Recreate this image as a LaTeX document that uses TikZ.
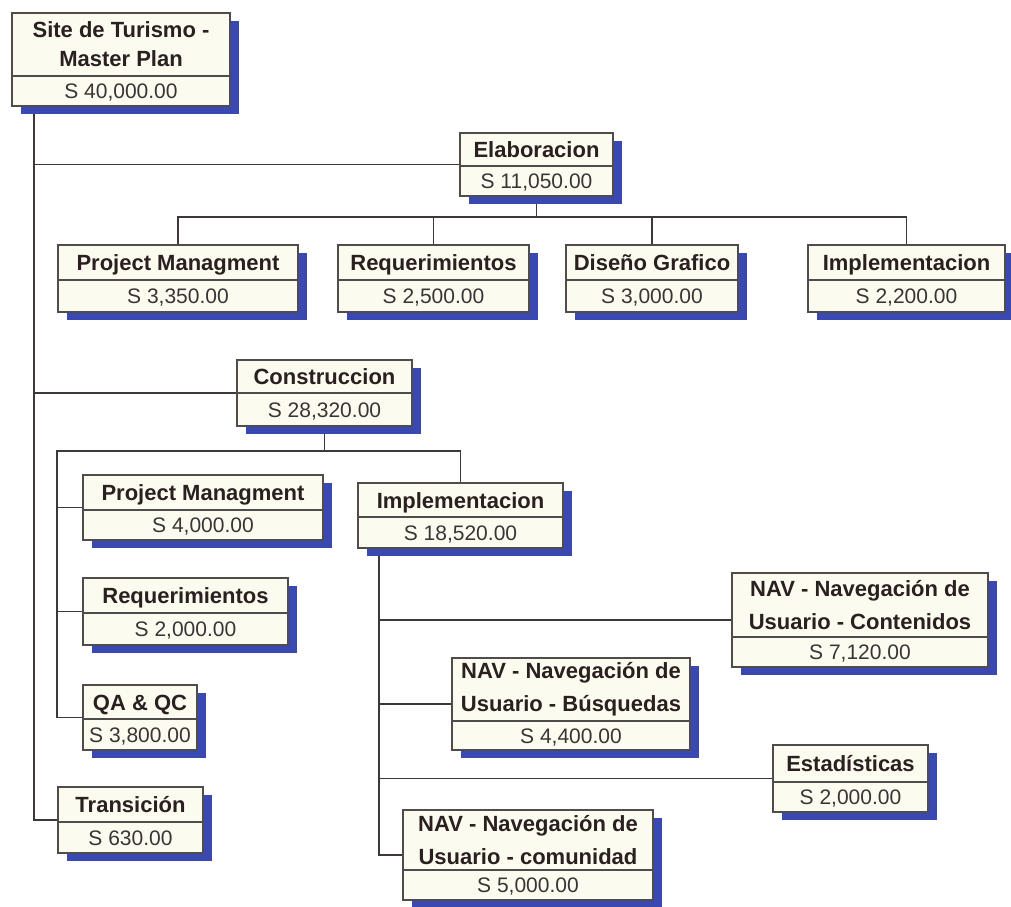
\documentclass[tikz,border=0pt]{standalone}
\usepackage{fontspec}
\setmainfont{Liberation Sans}
\usetikzlibrary{shadows,backgrounds,calc}
\definecolor{shadowblue}{RGB}{58,72,178}
\definecolor{boxfill}{RGB}{252,251,240}
\definecolor{boxline}{RGB}{80,76,76}
\definecolor{titletext}{RGB}{42,32,32}
\definecolor{costtext}{RGB}{58,52,52}
\definecolor{connline}{RGB}{62,56,56}
\tikzset{
  wbsframe/.style={draw=boxline, line width=1.8pt, fill=boxfill, inner sep=0pt,
    drop shadow={shadow xshift=9pt, shadow yshift=-8pt, fill=shadowblue, opacity=1}},
  wbsdiv/.style={draw=boxline, line width=1.6pt},
  wbstitle/.style={inner sep=0pt, align=center, text=titletext, font=\fontsize{22}{29}\selectfont\bfseries},
  oneline/.style={text height=16pt, text depth=0pt},
  twoline/.style={},
  wbscost/.style={inner sep=0pt, text=costtext, text height=15pt, text depth=0pt, font=\fontsize{21}{25}\selectfont},
  conn/.style={draw=connline, line width=1.8pt},
}
% name, x1, y1, x2, y2, ydivider, title, cost, title style
\newcommand\wbsbox[9]{%
  \node[wbsframe, minimum width={(#4-#2)*1pt}, minimum height={(#5-#3)*1pt}] (#1) at ({(#2+#4)/2},{(#3+#5)/2}) {};
  \draw[wbsdiv] (#2,#6) -- (#4,#6);
  \node[wbstitle, #9] (#1-t) at ({(#2+#4)/2},{(#3+#6)/2}) {#7};
  \node[wbscost] (#1-c) at ({(#2+#4)/2},{(#6+#5)/2}) {#8};
}
\begin{document}
\begin{tikzpicture}[x=1pt, y=-1pt]
\useasboundingbox (0,0) rectangle (1011,906);

\wbsbox{root}{12}{13}{230}{106}{76}{Site de Turismo -\\Master Plan}{S 40,000.00}{twoline}
\wbsbox{elab}{460}{133}{613}{196}{166}{Elaboracion}{S 11,050.00}{oneline}
\wbsbox{pma}{58}{245}{298}{312}{280}{Project Managment}{S 3,350.00}{oneline}
\wbsbox{reqa}{338}{245}{529}{312}{280}{Requerimientos}{S 2,500.00}{oneline}
\wbsbox{dis}{566}{245}{738}{312}{280}{Diseño Grafico}{S 3,000.00}{oneline}
\wbsbox{impa}{808}{245}{1005}{312}{280}{Implementacion}{S 2,200.00}{oneline}
\wbsbox{constr}{237}{360}{412}{426}{393}{Construccion}{S 28,320.00}{oneline}
\wbsbox{pmb}{83}{475}{323}{540}{510}{Project Managment}{S 4,000.00}{oneline}
\wbsbox{impb}{358}{483}{563}{548}{517}{Implementacion}{S 18,520.00}{oneline}
\wbsbox{reqb}{83}{578}{288}{645}{613}{Requerimientos}{S 2,000.00}{oneline}
\wbsbox{qa}{83}{685}{197}{750}{719}{QA \& QC}{S 3,800.00}{oneline}
\wbsbox{trans}{58}{787}{203}{853}{822}{Transición}{S 630.00}{oneline}
\wbsbox{cont}{732}{573}{988}{667}{637}{NAV - Navegación de\\[4pt]Usuario - Contenidos}{S 7,120.00}{twoline}
\wbsbox{bus}{452}{658}{690}{750}{721}{NAV - Navegación de\\[4pt]Usuario - Búsquedas}{S 4,400.00}{twoline}
\wbsbox{est}{773}{745}{928}{812}{782}{Estadísticas}{S 2,000.00}{oneline}
\wbsbox{com}{403}{810}{653}{900}{870}{NAV - Navegación de\\[4pt]Usuario - comunidad}{S 5,000.00}{twoline}

\begin{scope}[on background layer]
  % root
  \coordinate (rbus) at ([xshift=23pt]root.south west);
  \draw[conn] (rbus) |- (trans.west);
  \draw[conn] (rbus |- elab.west) -- (elab.west);
  \draw[conn] (rbus |- constr.west) -- (constr.west);
  % elaboracion
  \draw[conn] (elab.south) -- ++(0,20) coordinate (ebus);
  \draw[conn] (pma.north) |- (ebus) -| (impa.north);
  \draw[conn] (ebus -| reqa.north) -- (reqa.north);
  \draw[conn] (ebus -| dis.north) -- (dis.north);
  % construccion
  \draw[conn] (constr.south) -- ++(0,24) coordinate (cmid);
  \coordinate (cbus) at ($(cmid -| pmb.west)+(-25,0)$);
  \draw[conn] (cmid) -- (cbus) |- (qa.west);
  \draw[conn] (cmid) -| (impb.north);
  \draw[conn] (cbus |- pmb.west) -- (pmb.west);
  \draw[conn] (cbus |- reqb.west) -- (reqb.west);
  % implementacion
  \coordinate (ibus) at ([xshift=22pt]impb.south west);
  \draw[conn] (ibus) |- (com.west);
  \draw[conn] (ibus |- cont.west) -- (cont.west);
  \draw[conn] (ibus |- bus.west) -- (bus.west);
  \draw[conn] (ibus |- est.west) -- (est.west);
\end{scope}
\end{tikzpicture}
\end{document}
